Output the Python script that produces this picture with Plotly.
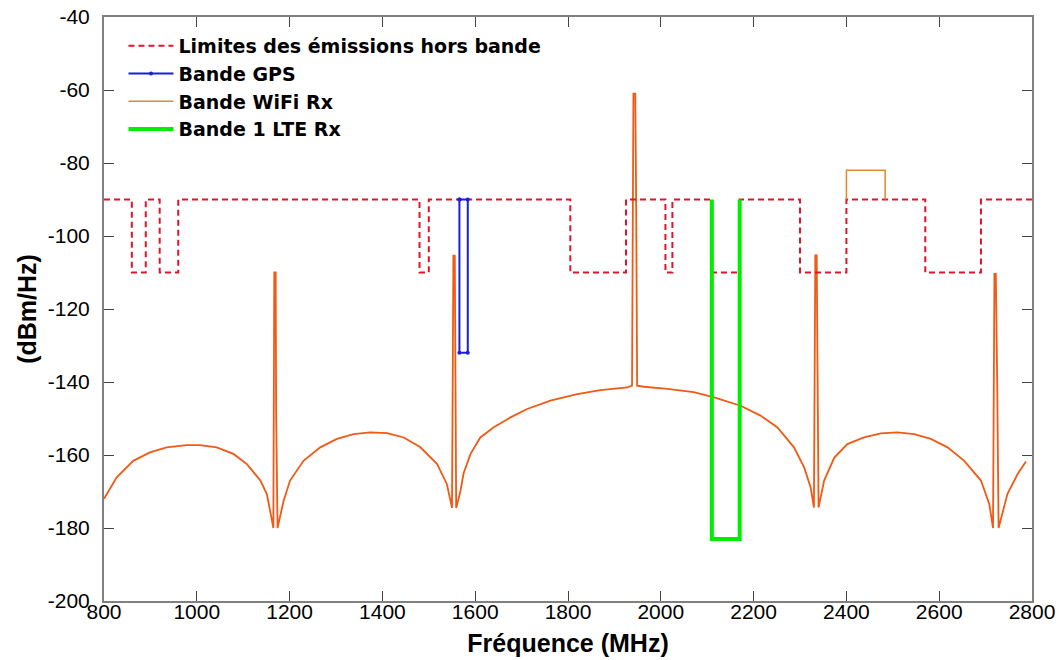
import plotly.graph_objects as go

# Emission mask (step function, hv shape)
mask_freq = [800, 860, 890, 920, 960, 1480, 1500, 1805, 1925, 2010, 2025,
             2110, 2170, 2300, 2400, 2570, 2690, 2800]
mask_level = [-90, -110, -90, -110, -90, -110, -90, -110, -90, -110, -90,
              -110, -90, -110, -90, -110, -90, -90]

# GPS band box
gps_freq = [1566, 1566, 1584, 1584, 1566]
gps_level = [-90, -132, -132, -90, -90]

# WiFi Rx band
wifi_freq = [2400, 2400, 2483.5, 2483.5]
wifi_level = [-90, -82, -82, -90]

# LTE band 1 Rx
lte_freq = [2110, 2110, 2170, 2170]
lte_level = [-90, -183, -183, -90]

# Spectrum
spec_freq = [800, 827, 863, 899, 935, 978, 1007, 1043, 1079, 1108, 1137, 1151, 1162, 1165,
             1167, 1170, 1171, 1172, 1174,
             1187, 1201, 1230, 1266, 1302, 1338, 1374, 1410, 1446, 1482, 1518, 1539, 1550,
             1553, 1556, 1557, 1559,
             1568, 1575, 1590, 1611, 1640, 1676, 1712, 1762, 1820, 1870, 1928, 1938,
             1941, 1945, 1947, 1949,
             1964, 2014, 2071, 2115, 2172, 2215, 2251, 2287, 2309, 2323, 2330,
             2333, 2336, 2337, 2338, 2340,
             2352, 2374, 2402, 2438, 2474, 2510, 2546, 2582, 2618, 2654, 2690, 2708, 2716,
             2719, 2722, 2723, 2725, 2728,
             2747, 2769, 2787]
spec_level = [-172, -166.2, -161.6, -159.3, -157.9, -157.3, -157.3, -157.9, -159.7, -162.5, -167, -170.7, -178, -180,
              -110, -110, -148, -163, -180,
              -172.6, -167, -161.6, -157.9, -155.6, -154.3, -153.8, -154, -155.2, -157.9, -162.5, -168, -174.5,
              -105.4, -105.4, -136, -174.5,
              -170, -165, -159.7, -155.2, -152.4, -149.7, -147.4, -145.1, -143.3, -142.2, -141.5, -141,
              -61, -61, -93, -141,
              -141.3, -141.9, -142.8, -144.2, -146.5, -149.2, -152.4, -157.9, -163.4, -168.9, -174.4,
              -105.3, -105.3, -118, -138, -174.4,
              -167, -160.7, -157, -155.2, -154.1, -153.8, -154.3, -155.6, -157.9, -161.6, -167, -173.5, -180,
              -110.4, -110.4, -117.7, -140, -180,
              -170.7, -165.2, -161.8]

x_ticks = list(range(800, 2801, 200))
y_ticks = list(range(-200, -39, 20))
y_tick_labels = [str(v) for v in y_ticks]  # plain hyphen, like the original

fig = go.Figure()

fig.add_trace(go.Scatter(
    x=spec_freq, y=spec_level, mode='lines', showlegend=False,
    line=dict(color='#f05a14', width=1.8)))

fig.add_trace(go.Scatter(
    x=mask_freq, y=mask_level, mode='lines', line_shape='hv',
    name='Limites des émissions hors bande',
    line=dict(color='#e0142a', width=2, dash='6px,4px')))

fig.add_trace(go.Scatter(
    x=gps_freq, y=gps_level, mode='lines+markers', name='Bande GPS',
    line=dict(color='#1a1ee0', width=2),
    marker=dict(size=4, color='#1a1ee0')))

fig.add_trace(go.Scatter(
    x=wifi_freq, y=wifi_level, mode='lines', name='Bande WiFi Rx',
    line=dict(color='#e08a28', width=1.5)))

fig.add_trace(go.Scatter(
    x=lte_freq, y=lte_level, mode='lines', name='Bande 1 LTE Rx',
    line=dict(color='#00ee00', width=4)))

axis_font = dict(family='Liberation Sans, Arial', size=21, color='black')
title_font = dict(family='Liberation Sans, Arial', size=25, color='black')

fig.update_layout(
    width=1061, height=660,
    margin=dict(l=104, r=29, t=17, b=59),
    paper_bgcolor='white', plot_bgcolor='white',
    showlegend=True,
    legend=dict(x=0.021, y=0.983, xanchor='left', yanchor='top',
                bgcolor='rgba(255,255,255,0)', borderwidth=0, itemwidth=45,
                font=dict(family='DejaVu Sans, Liberation Sans', size=19, color='black',
                          weight='bold')),
)

fig.update_xaxes(
    range=[800, 2800], tickvals=x_ticks, ticks='inside', ticklen=10,
    tickcolor='#444', showline=True, linecolor='#808080', linewidth=2,
    mirror='ticks', showgrid=False, zeroline=False, automargin=False,
    tickfont=axis_font, ticklabelstandoff=-9,
    title=dict(text='<b>Fréquence (MHz)</b>', standoff=12, font=title_font))

fig.update_yaxes(
    range=[-200, -40], tickvals=y_ticks, ticktext=y_tick_labels,
    ticks='inside', ticklen=10,
    tickcolor='#444', showline=True, linecolor='#808080', linewidth=2,
    mirror='ticks', showgrid=False, zeroline=False, automargin=False,
    tickfont=axis_font, ticklabelstandoff=8,
    title=dict(text='<b>(dBm/Hz)</b>', standoff=4, font=title_font))

# drop the browser's default body margin so the figure sits at the page corner
fig.write_html("out.html", config={'displayModeBar': False},
               post_script="document.body.style.margin='0';")
